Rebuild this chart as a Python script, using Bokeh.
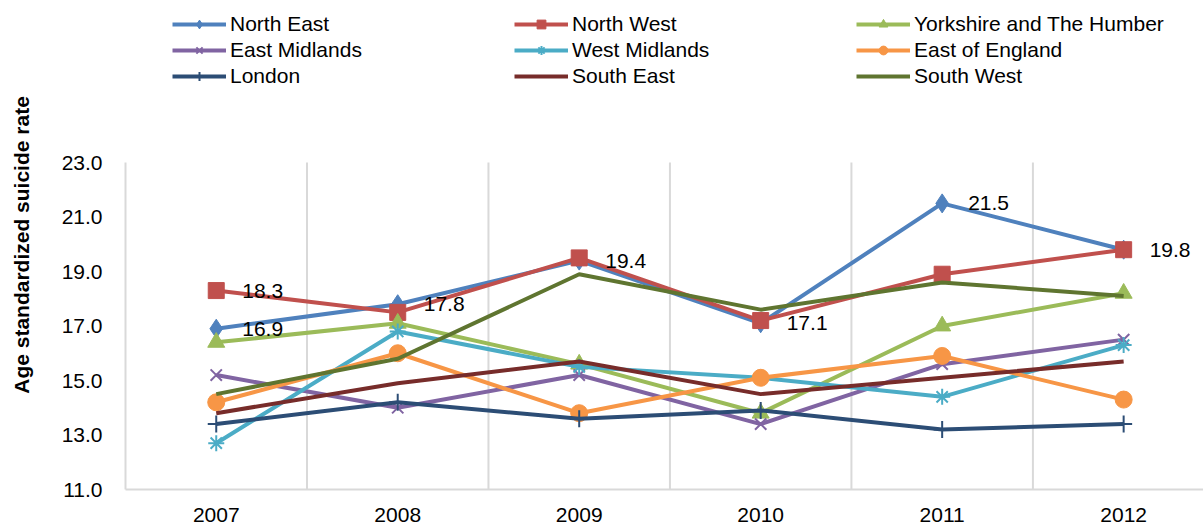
from bokeh.plotting import figure
from bokeh.models import (Legend, LegendItem, FixedTicker, ColumnDataSource,
                          NumeralTickFormatter, Range1d)
from bokeh.core.properties import value
from bokeh.embed import file_html
from bokeh.resources import INLINE

# Age standardized suicide rate by English region, 2007-2012
years = ["2007", "2008", "2009", "2010", "2011", "2012"]

north_east = [16.9, 17.8, 19.4, 17.1, 21.5, 19.8]
north_west = [18.3, 17.5, 19.5, 17.2, 18.9, 19.8]
yorkshire = [16.4, 17.1, 15.6, 13.8, 17.0, 18.2]
east_midlands = [15.2, 14.0, 15.2, 13.4, 15.6, 16.5]
west_midlands = [12.7, 16.8, 15.5, 15.1, 14.4, 16.3]
east_of_england = [14.2, 16.0, 13.8, 15.1, 15.9, 14.3]
london = [13.4, 14.2, 13.6, 13.9, 13.2, 13.4]
south_east = [13.8, 14.9, 15.7, 14.5, 15.1, 15.7]
south_west = [14.5, 15.8, 18.9, 17.6, 18.6, 18.1]

y_ticks = [11, 13, 15, 17, 19, 21, 23]

FONT = "Liberation Sans"
FS = "21px"
GRID = "#D9D9D9"

series = [
    ("North East", north_east, "#4F81BD", "diamond", 19),
    ("North West", north_west, "#C0504D", "square", 16),
    ("Yorkshire and The Humber", yorkshire, "#9BBB59", "triangle", 17),
    ("East Midlands", east_midlands, "#8064A2", "x", 16),
    ("West Midlands", west_midlands, "#4BACC6", "asterisk", 16),
    ("East of England", east_of_england, "#F79646", "circle", 17),
    ("London", london, "#2C4D75", "cross", 17),
    ("South East", south_east, "#772C2A", None, 0),
    ("South West", south_west, "#5F7530", None, 0),
]

xs = list(range(len(years)))
y_lo, y_hi = y_ticks[0], y_ticks[-1]

# The frame reaches the top of the canvas so the legend can sit above the
# value area; the axis and separators are bounded to the 11-23 scale.
p = figure(width=1203, height=525, output_backend="svg", toolbar_location=None,
           x_range=Range1d(-0.5, 5.44), y_range=Range1d(y_lo, 28.945),
           min_border_left=125, min_border_right=0, min_border_top=0,
           min_border_bottom=36)
p.outline_line_color = None
p.background_fill_color = "white"
p.xgrid.visible = False
p.ygrid.visible = False

# vertical separators between the year categories
sep_x = [x + 0.5 for x in xs]
p.segment(x0=sep_x, y0=[y_lo] * len(sep_x), x1=sep_x, y1=[y_hi] * len(sep_x),
          line_color=GRID, line_width=2)

items = []
for name, vals, color, marker, size in series:
    src = ColumnDataSource(dict(x=xs, y=vals))
    rs = [p.line("x", "y", source=src, line_color=color, line_width=4)]
    if marker is not None:
        if marker in ("x", "asterisk", "cross"):
            rs.append(p.scatter("x", "y", source=src, marker=marker, size=size,
                                line_color=color, line_width=2))
        else:
            rs.append(p.scatter("x", "y", source=src, marker=marker, size=size,
                                fill_color=color, line_color=color))
    items.append(LegendItem(label=name, renderers=rs))

# value labels: North East across all years, plus North West in 2007
lbl_x = xs + [0]
lbl_y = north_east + [north_west[0]]
p.text(x=lbl_x, y=lbl_y, text=[f"{v:.1f}" for v in lbl_y], x_offset=26,
       text_baseline="middle", text_align="left", text_font=value(FONT),
       text_font_size=FS, text_color="black")

# axes
p.xaxis.ticker = FixedTicker(ticks=xs)
p.xaxis.major_label_overrides = {i: y for i, y in enumerate(years)}
p.yaxis.ticker = FixedTicker(ticks=y_ticks)
p.yaxis.formatter = NumeralTickFormatter(format="0.0")
p.yaxis.bounds = (y_lo, y_hi)
for ax in (p.xaxis, p.yaxis):
    ax.axis_line_color = GRID
    ax.axis_line_width = 2
    ax.major_tick_line_color = None
    ax.minor_tick_line_color = None
    ax.major_label_text_font = FONT
    ax.major_label_text_font_size = FS
    ax.major_label_text_color = "black"
p.xaxis.major_label_standoff = 12
p.yaxis.major_label_standoff = 17
p.yaxis.axis_label = "Age standardized suicide rate"
p.yaxis.axis_label_text_font = FONT
p.yaxis.axis_label_text_font_style = "bold"
p.yaxis.axis_label_text_font_size = FS
p.yaxis.axis_label_text_color = "black"
p.yaxis.axis_label_standoff = 26

# three-column legend, read across rows (items are laid out column-first)
ncols = 3
nrows = len(items) // ncols
legend_items = [items[r * ncols + c] for c in range(ncols) for r in range(nrows)]
legend = Legend(items=legend_items, ncols=ncols, location=(47, 401),
                glyph_width=54, glyph_height=22, label_height=22,
                label_width=282, label_standoff=4, spacing=2, padding=0,
                margin=0, border_line_color=None, background_fill_alpha=0,
                label_text_font=FONT, label_text_font_size=FS,
                label_text_color="black")
p.add_layout(legend, "center")

open("out.html", "w").write(file_html(p, INLINE))
